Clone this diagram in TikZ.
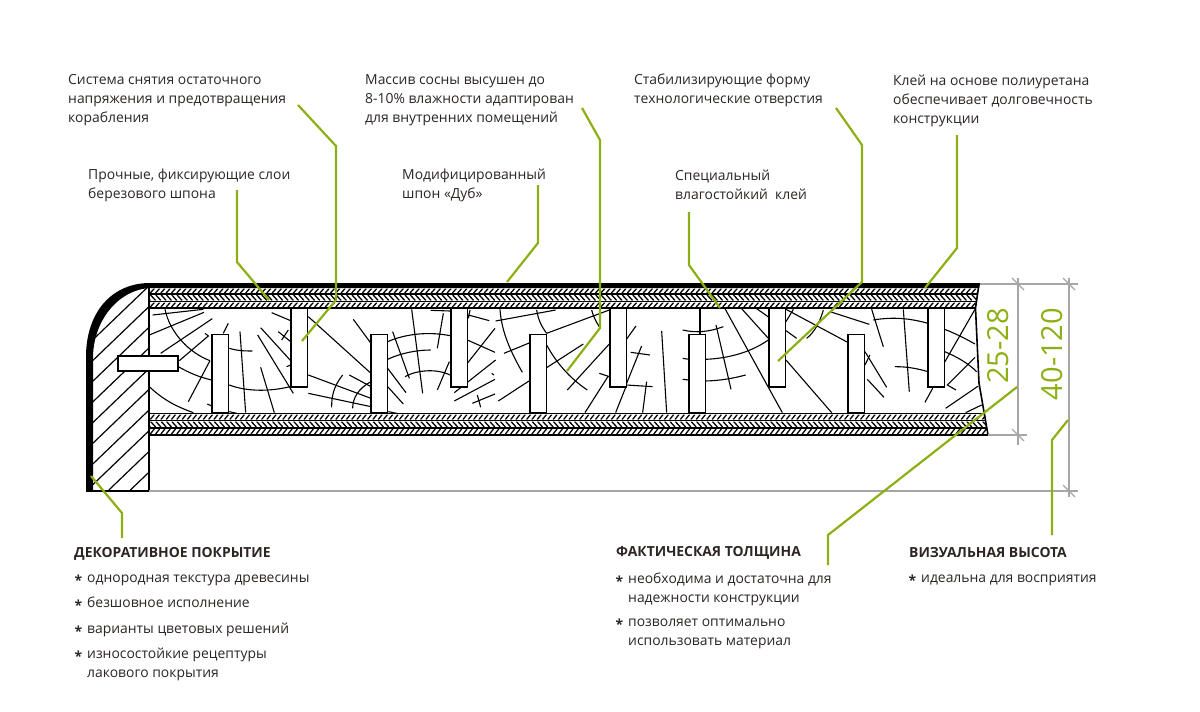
\documentclass[tikz,border=0pt]{standalone}
\usepackage{fontspec}
\setmainfont{Open Sans}
\usepackage{tikz}
\usetikzlibrary{calc}
\definecolor{leafgreen}{HTML}{8CAF14}
\definecolor{dimgrey}{HTML}{A6A6A6}
\definecolor{inkgrey}{HTML}{2B2523}
\tikzset{
	caption/.style={anchor=west,inner sep=0pt,text=inkgrey,font=\fontsize{13.9}{19}\selectfont,align=left},
	headline/.style={anchor=west,inner sep=0pt,text=inkgrey,font=\fontsize{13.9}{19}\selectfont\bfseries},
	leader/.style={leafgreen,line width=2.2pt,line join=miter},
	dimline/.style={dimgrey,line width=1.2pt},
	grain/.style={black,line width=1.1pt},
	post/.style={draw=black,fill=white,line width=1.6pt},
	sizetext/.style={text=leafgreen,inner sep=0pt,rotate=90,font=\fontsize{29}{29}\selectfont},
	zoomA/.style={shift={(70,270)},x=.3333pt,y=-.3333pt},
	zoomB/.style={shift={(350,270)},x=.3333pt,y=-.3333pt},
	zoomC/.style={shift={(660,270)},x=.3333pt,y=-.3333pt}
}
\def\bul{\llap{\raisebox{-3pt}{\textbf{*}}\hspace{5pt}}}
\def\twill#1#2#3#4#5% Syntax: {top y}{bottom y}{x right top}{x right bottom}{slant}
{ \begin{scope}
	\clip (149,#1) -- (#3,#1) -- (#4,#2) -- (149,#2) -- cycle;
	\foreach \x in {0,...,160}
		\draw[line width=1.3pt] ({145+5.3*\x},#2) -- ++(#5,{#1-#2});
	\end{scope} }
\def\tick(#1){ \draw[dimline] ($(#1)+(-6,-6)$) -- ($(#1)+(6,6)$); }
\begin{document}
\begin{tikzpicture}[x=1pt,y=-1pt]
	\useasboundingbox (0,0) rectangle (1200,712);
	
	%block hatching
	\begin{scope}
		\clip (90,491) -- (90,357) .. controls (90,318) and (115,287) .. (150,287) -- (150,491) -- cycle;
		\foreach \n in {0,...,20}
			\draw[line width=1.2pt] (80,{290+20.7*\n}) -- ++(75,-72);
	\end{scope}
	\draw[line width=1.2pt] (149,285) -- (149,491);
	\draw[dimline] (149,491) -- (1078,491);
	
	%top layers
	\fill (86,491) -- (86,357) .. controls (86,312) and (112,283) .. (150,283) -- (980,283) -- (979,288) -- (150,288) .. controls (117,290) and (93,322) .. (93,358) -- (93,491) -- cycle;
	\draw[line width=1.4pt] (86,491) -- (149,491);
	\twill{288.5}{293}{978}{977.5}{4}
	\twill{295}{300.5}{977.5}{977}{-5}
	\twill{302.5}{307}{976.5}{976}{4}
	\draw[line width=1.4pt] (149,294) -- (978,294);
	\draw[line width=1.2pt] (149,301.5) -- (977,301.5);
	\draw[line width=1.6pt] (149,308) -- (976,308);
	
	%bottom layers
	\twill{414.5}{419.5}{985}{986}{4}
	\twill{421.5}{427}{986}{987}{-5}
	\twill{429}{434}{987}{988}{4}
	\draw[line width=1.6pt] (149,413.5) -- (985,413.5);
	\draw[line width=1.2pt] (149,420.5) -- (986,420.5);
	\draw[line width=1.2pt] (149,428) -- (987,428);
	\draw[line width=1.6pt] (149,435) -- (988,435);
	
	%right edge
	\draw[line width=1.6pt] (979,284) -- (975.5,308) -- (979,383) -- (988,435);
	
	%grain
	\begin{scope}[zoomA,grain]
		\draw (248,135) -- (400,118);
		\draw (238,195) -- (402,127);
		\draw (272,250) -- (427,146);
		\draw (285,118) .. controls (300,190) and (360,250) .. (420,272);
		\draw (328,272) -- (415,198) -- (405,190);
		\draw (355,395) -- (420,272);
		\draw (325,290) .. controls (360,310) and (390,322) .. (425,330);
		\draw (238,350) .. controls (280,390) and (320,410) .. (370,428);
		\draw (460,190) -- (475,160);
		\draw (478,235) .. controls (500,242) and (520,243) .. (547,243);
		\draw (510,185) -- (527,428);
		\draw (478,345) .. controls (530,365) and (600,365) .. (660,350);
		\draw (572,292) -- (613,428);
		\draw (563,195) -- (670,370);
		\draw (572,173) -- (662,272);
		\draw (605,128) -- (662,152);
		\draw (625,185) -- (662,215);
		\draw (655,180) -- (635,210);
		\draw (650,290) -- (662,285);
		\draw (715,140) -- (903,310);
		\draw (850,148) -- (903,220);
		\draw (715,315) -- (903,385);
		\draw (715,370) -- (903,410);
		\draw (818,315) .. controls (790,350) and (785,380) .. (785,412);
		\draw (838,315) -- (903,350);
		\draw (903,335) .. controls (865,355) and (848,385) .. (848,415);
		\draw (412,402) -- (425,408);
		\draw (478,425) -- (500,430);
	\end{scope}
	\begin{scope}[zoomB,grain]
		\draw (113,215) .. controls (170,190) and (240,185) .. (300,197);
		\draw (113,268) .. controls (150,250) and (200,240) .. (242,240);
		\draw (165,320) .. controls (200,300) and (260,295) .. (300,315);
		\draw (128,185) -- (178,325);
		\draw (185,118) -- (218,370);
		\draw (113,295) -- (168,368);
		\draw (113,350) -- (160,402);
		\draw (115,425) -- (140,430);
		\draw (242,121) -- (300,123);
		\draw (280,130) -- (262,235);
		\draw (298,275) -- (262,360);
		\draw (352,210) -- (435,247);
		\draw (360,120) -- (355,145);
		\draw (355,135) -- (418,152);
		\draw (435,175) -- (352,280);
		\draw (437,270) -- (313,368);
		\draw (435,328) -- (313,393);
		\draw (425,310) -- (432,315);
		\draw (435,372) -- (367,400);
		\draw (382,375) -- (392,412);
		\draw (537,333) -- (445,393);
		\draw (437,153) -- (617,120);
		\draw (450,118) .. controls (455,190) and (485,250) .. (517,307);
		\draw (560,120) .. controls (565,150) and (575,170) .. (590,190);
		\draw (462,250) -- (540,218);
		\draw (590,190) -- (778,120);
		\draw (700,222) -- (590,293);
		\draw (590,225) .. controls (620,280) and (660,325) .. (712,360);
		\draw (778,222) -- (652,360);
		\draw (748,310) -- (778,320);
		\draw (775,318) -- (705,428);
		\draw (725,120) .. controls (730,140) and (738,155) .. (748,170);
		\draw (828,210) -- (858,168);
		\draw (875,228) -- (828,345);
		\draw (842,247) -- (900,255);
		\draw (828,345) -- (908,350);
		\draw (828,350) -- (797,428);
		\draw (890,335) -- (878,428);
	\end{scope}
	\begin{scope}[zoomC,grain]
		\draw (5,183) -- (20,428);
		\draw (120,116) -- (120,193);
		\draw (68,180) .. controls (110,190) and (150,185) .. (190,170);
		\draw (168,165) -- (213,358);
		\draw (68,265) -- (87,268);
		\draw (137,268) .. controls (210,265) and (275,245) .. (325,210);
		\draw (68,328) -- (87,330);
		\draw (137,333) .. controls (180,332) and (220,325) .. (257,315);
		\draw (195,116) -- (367,428);
		\draw (245,116) -- (325,205);
		\draw (290,116) -- (327,142);
		\draw (378,270) -- (515,428);
		\draw (378,155) -- (400,118);
		\draw (378,182) -- (410,205);
		\draw (378,118) -- (565,218);
		\draw (490,120) .. controls (480,155) and (465,185) .. (440,205);
		\draw (510,125) -- (628,163);
		\draw (635,118) -- (670,230);
		\draw (640,150) .. controls (700,140) and (750,145) .. (804,160);
		\draw (730,118) -- (748,365);
		\draw (705,290) .. controls (740,290) and (770,295) .. (804,305);
		\draw (615,245) -- (680,352);
		\draw (615,285) -- (630,255);
		\draw (622,328) -- (672,382);
		\draw (818,355) -- (795,397);
		\draw (854,178) .. controls (885,190) and (915,205) .. (945,222);
		\draw (854,245) .. controls (890,260) and (925,280) .. (950,305);
		\draw (945,118) -- (855,275);
		\draw (945,262) -- (862,345) -- (888,360);
		\draw (955,348) -- (857,415);
		\draw (965,405) -- (917,428);
	\end{scope}
	
	%posts
	\foreach \x in {212,371,530,689,848}
		\draw[post] (\x,334.5) rectangle ++(16.5,78.5);
	\foreach \x in {291,451,610,769,928}
		\draw[post] (\x,308.5) rectangle ++(16.5,78.5);
	\draw[post] (118,356) rectangle (178,371);
	
	%sizes
	\draw[dimline] (980,284) -- (1078,284);
	\draw[dimline] (988,435) -- (1027,435);
	\draw[dimline] (1018,278) -- (1018,445);
	\draw[dimline] (1069,278) -- (1069,497);
	\tick(1018,284) \tick(1018,435) \tick(1069,284) \tick(1069,491)
	\node[sizetext] (thick) at (998,346) {25-28};
	\node[sizetext] (visual) at (1052,354) {40-120};
	
	%captions
	\node[caption] (relief) at (68,100.5) {Система снятия остаточного\\напряжения и предотвращения\\корабления};
	\node[caption] (birch) at (88,185) {Прочные, фиксирующие слои\\березового шпона};
	\node[caption] (pine) at (365,100.5) {Массив сосны высушен до\\8-10\% влажности адаптирован\\для внутренних помещений};
	\node[caption] (oak) at (402,185) {Модифицированный\\шпон «Дуб»};
	\node[caption] (holes) at (634,90.5) {Стабилизирующие форму\\технологические отверстия};
	\node[caption] (glue) at (675,185) {Специальный\\влагостойкий\ \ клей};
	\node[caption] (poly) at (893,100.5) {Клей на основе полиуретана\\обеспечивает долговечность\\конструкции};
	
	\node[headline] (decor) at (74,553.5) {ДЕКОРАТИВНОЕ ПОКРЫТИЕ};
	\node[caption] (decora) at (87,580) {\bul однородная текстура древесины};
	\node[caption] (decorb) at (87,604) {\bul безшовное исполнение};
	\node[caption] (decorc) at (87,629.5) {\bul варианты цветовых решений};
	\node[caption] (decord) at (87,664.5) {\bul износостойкие рецептуры\\лакового покрытия};
	
	\node[headline] (actual) at (616,552.5) {ФАКТИЧЕСКАЯ ТОЛЩИНА};
	\node[caption] (actuala) at (628,589) {\bul необходима и достаточна для\\надежности конструкции};
	\node[caption] (actualb) at (628,633.5) {\bul позволяет оптимально\\использовать материал};
	
	\node[headline] (seen) at (909,552.5) {ВИЗУАЛЬНАЯ ВЫСОТА};
	\node[caption] (seena) at (921,580.5) {\bul идеальна для восприятия};
	
	%leaders
	\coordinate (reliefa) at (298,105);	\coordinate (reliefb) at (302,341);
	\coordinate (birchb) at (269,300);
	\coordinate (pinea) at (582,108);	\coordinate (pineb) at (567,371);
	\coordinate (oakb) at (507,282);
	\coordinate (holesa) at (836,108);	\coordinate (holesb) at (778,361);
	\coordinate (glueb) at (720,308);
	\coordinate (polyb) at (925,288);
	\coordinate (decorend) at (91,476);
	\coordinate (thickb) at (1017,387);
	\coordinate (visualb) at (1068,420);
	\draw[leader] (reliefa) -- (336,146) -- (336,300) -- (reliefb);
	\draw[leader] (237,190) -- (237,262) -- (birchb);
	\draw[leader] (pinea) -- (600,140) -- (600,328) -- (pineb);
	\draw[leader] (538,185) -- (538,243) -- (oakb);
	\draw[leader] (holesa) -- (862,145) -- (862,282) -- (holesb);
	\draw[leader] (689,212) -- (689,265) -- (glueb);
	\draw[leader] (957,135) -- (957,248) -- (polyb);
	\draw[leader] (122,538) -- (122,513) -- (decorend);
	\draw[leader] (828,565) -- (828,535) -- (thickb);
	\draw[leader] (1052,535) -- (1052,440) -- (visualb);
\end{tikzpicture}
\end{document}
